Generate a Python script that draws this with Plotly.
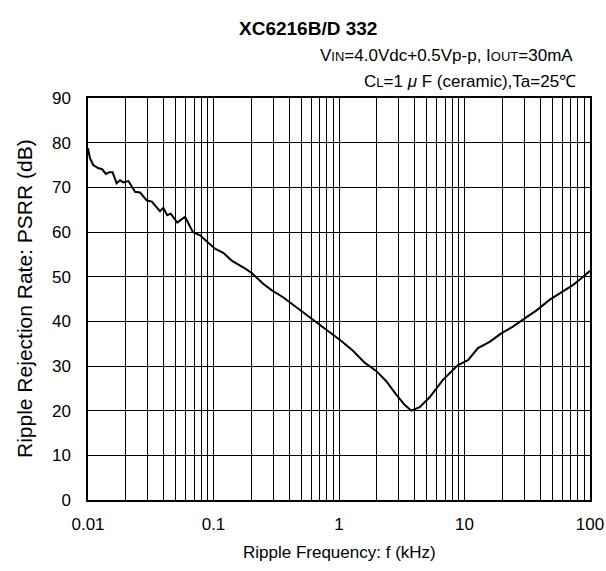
import plotly.graph_objects as go

freq_khz = [0.01, 0.01037, 0.0110, 0.0121, 0.0129, 0.0139, 0.0148, 0.0157, 0.0169, 0.0180,
            0.0191, 0.0210, 0.0237, 0.0260, 0.0293, 0.0322, 0.0375, 0.0398, 0.0428, 0.0456,
            0.0515, 0.0593, 0.0684, 0.0781, 0.0909, 0.1027, 0.1196, 0.1395, 0.1724, 0.2011,
            0.2487, 0.2900, 0.3584, 0.4306, 0.5175, 0.6809, 0.8432, 1.0442, 1.2923, 1.600,
            1.981, 2.380, 2.859, 3.334, 3.771, 4.391, 5.274, 6.73, 8.87, 10.66,
            12.81, 15.86, 19.63, 24.29, 31.01, 37.27, 47.56, 60.68, 72.9, 85.0, 100.0]
psrr_db = [78.75, 76.5, 75.0, 74.25, 74.1, 73.0, 73.4, 73.4, 70.9, 71.6,
           71.1, 71.4, 69.0, 68.85, 67.1, 66.8, 64.65, 65.4, 63.75, 64.1,
           62.1, 63.4, 60.0, 59.25, 57.6, 56.25, 55.35, 53.6, 52.1, 50.85,
           48.4, 47.0, 45.4, 43.7, 42.2, 39.5, 37.6, 35.6, 33.4, 30.75,
           28.9, 26.6, 23.6, 21.3, 20.0, 20.8, 23.0, 26.9, 30.2, 31.3,
           34.0, 35.4, 37.3, 38.8, 40.9, 42.4, 44.8, 46.6, 48.1, 49.6, 51.3]

decades = [0.01, 0.1, 1, 10, 100]
decade_labels = ["0.01", "0.1", "1", "10", "100"]
y_ticks = [0, 10, 20, 30, 40, 50, 60, 70, 80, 90]

title_text = "XC6216B/D 332"
cond_line1 = "V<span style='font-size:13px'>IN</span>=4.0Vdc+0.5Vp-p, I<span style='font-size:13px'>OUT</span>=30mA"
cond_line2 = "C<span style='font-size:13px'>L</span>=1 <i>μ</i> F (ceramic),Ta=25℃"
x_title = "Ripple Frequency: f (kHz)"
y_title = "Ripple Rejection Rate: PSRR (dB)"

# gridline positions: every 1..9 multiple within each decade
grid_vals = []
grid_text = []
for i, d in enumerate(decades[:-1]):
    for m in range(1, 10):
        grid_vals.append(d * m)
        grid_text.append(decade_labels[i] if m == 1 else "")
grid_vals.append(decades[-1])
grid_text.append(decade_labels[-1])

W, H = 606, 571
L, R, T, B = 88, 16, 98, 71

fig = go.Figure()
fig.add_trace(go.Scatter(x=freq_khz, y=psrr_db, mode="lines",
                         line=dict(color="black", width=2), showlegend=False))

font = "Liberation Sans, Arial, sans-serif"
plot_w = W - L - R
plot_h = H - T - B
def px_to_paper(px, py):
    return (px - L) / plot_w, (H - B - py) / plot_h

tx, ty = px_to_paper(308, 28)
l1x, l1y = px_to_paper(575, 55)
l2x, l2y = px_to_paper(578, 82)
xtx, xty = px_to_paper((L + W - R) / 2, 552)
ytx, yty = px_to_paper(24, (T + H - B) / 2)

fig.update_layout(
    width=W, height=H,
    margin=dict(l=L, r=R, t=T, b=B, autoexpand=False),
    paper_bgcolor="white", plot_bgcolor="white",
    font=dict(family=font, color="black", size=17),
    xaxis=dict(type="log", range=[-2, 2], tickvals=grid_vals, ticktext=grid_text,
               showgrid=True, gridcolor="black", gridwidth=1,
               showline=True, linecolor="black", linewidth=1.5, mirror=True,
               ticks="", tickfont=dict(size=17), zeroline=False, ticklabelstandoff=8,
               ticklabeloverflow="allow", automargin=False),
    yaxis=dict(range=[0, 90], tickvals=y_ticks,
               showgrid=True, gridcolor="black", gridwidth=1,
               showline=True, linecolor="black", linewidth=1.5, mirror=True,
               ticks="", tickfont=dict(size=17), zeroline=False, ticklabelstandoff=12,
               automargin=False),
    annotations=[
        dict(text="<b>" + title_text + "</b>", x=tx, y=ty, xref="paper", yref="paper",
             xanchor="center", yanchor="middle", showarrow=False, font=dict(size=19)),
        dict(text=cond_line1, x=l1x, y=l1y, xref="paper", yref="paper",
             xanchor="right", yanchor="middle", showarrow=False, font=dict(size=17)),
        dict(text=cond_line2, x=l2x, y=l2y, xref="paper", yref="paper",
             xanchor="right", yanchor="middle", showarrow=False, font=dict(size=17)),
        dict(text=x_title, x=xtx, y=xty, xref="paper", yref="paper",
             xanchor="center", yanchor="middle", showarrow=False, font=dict(size=17)),
        dict(text=y_title, x=ytx, y=yty, xref="paper", yref="paper", textangle=-90,
             xanchor="center", yanchor="middle", showarrow=False, font=dict(size=21)),
    ],
)

fig.write_html("out.html", config={"displayModeBar": False},
               post_script="document.body.style.margin='0';document.body.style.overflow='hidden';")
